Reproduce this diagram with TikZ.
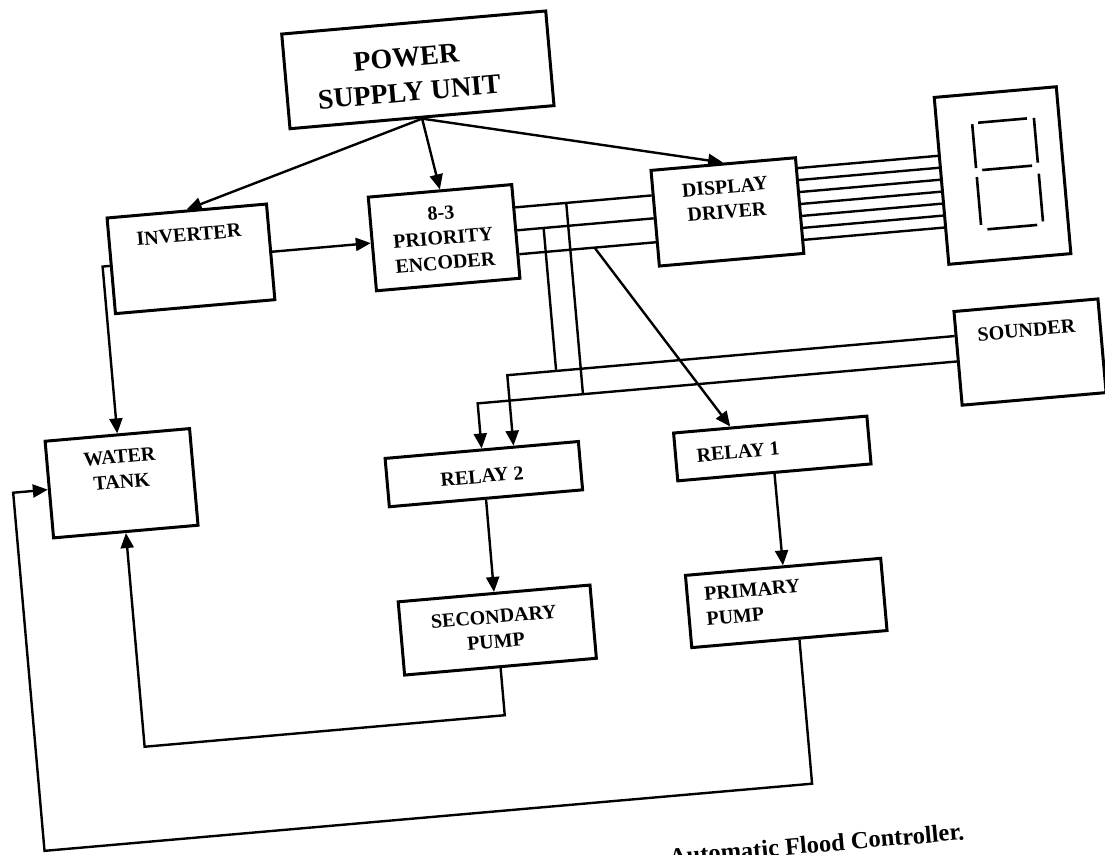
\documentclass[tikz,border=0pt]{standalone}
\usepackage{fontspec}
\setmainfont{Liberation Serif}
\usetikzlibrary{arrows.meta}
\begin{document}
\begin{tikzpicture}[x=1pt,y=-1pt,
  blk/.style 2 args={draw,line width=3pt,inner sep=0pt,minimum width=#1pt,minimum height=#2pt},
  lbl/.style={font=\bfseries\fontsize{20}{25}\selectfont,align=center,inner sep=0pt},
  lblL/.style={font=\bfseries\fontsize{20}{25}\selectfont,align=left,inner sep=0pt},
  big/.style={font=\bfseries\fontsize{28}{35}\selectfont,align=center,inner sep=0pt},
  conn/.style={line width=2.4pt},
  arr/.style={conn,-{Triangle[length=15pt,width=13pt]}},
  seg/.style={line width=2.6pt}]
\path[use as bounding box,fill=white] (0,0) rectangle (1105,854);
\begin{scope}[transform canvas={rotate around={5:(552,427)}}]
% boxes
\node[blk={265}{95}] (psu) at (449.5,59.5) {};
\node[big] (psut) at (439,63.5) {POWER\\SUPPLY UNIT};
\node[blk={160}{96}] (inv) at (207,228) {};
\node[lbl] (invt) at (207,204) {INVERTER};
\node[blk={144}{94}] (enc) at (461,229) {};
\node[lbl] (enct) at (460,229) {8-3\\PRIORITY\\ENCODER};
\node[blk={145}{96}] (drv) at (745.5,228) {};
\node[lbl] (drvt) at (745,215.5) {DISPLAY\\DRIVER};
\node[blk={122.5}{167.5}] (sevseg) at (1022.75,215.75) {};
\node[blk={144.5}{94}] (snd) at (1034.75,394) {};
\node[lbl] (sndt) at (1033,372) {SOUNDER};
\node[blk={145}{97}] (wt) at (118.3,445.5) {};
\node[lbl] (wtt) at (118.5,431.5) {WATER\\TANK};
\node[blk={194}{48.5}] (rl2) at (480,468) {};
\node[lbl] (rl2t) at (478,470) {RELAY 2};
\node[blk={194}{48}] (rl1) at (769.6,467.6) {};
\node[lbl,anchor=west] (rl1t) at (693.5,468) {RELAY 1};
\node[blk={192.5}{73.5}] (sec) at (479.8,624.5) {};
\node[lbl] (sect) at (477.5,623.5) {SECONDARY\\PUMP};
\node[blk={196}{72.5}] (pri) at (770,622.7) {};
\node[lblL,anchor=west] (prit) at (689,619.5) {PRIMARY\\PUMP};
\node[anchor=base west,inner sep=0pt,font=\bfseries\fontsize{24.5}{30}\selectfont] (cap) at (631,874) {Automatic Flood Controller.};
% seven-segment digit
\draw[seg] (1003,161) -- (1052,161);
\draw[seg] (1003,208.5) -- (1053,208.5);
\draw[seg] (1003,268) -- (1053,268);
\draw[seg] (997,162) -- (997,206);
\draw[seg] (1059,161) -- (1059,206);
\draw[seg] (997,215) -- (997,263);
\draw[seg] (1059,217) -- (1059,265);
% coordinates
\coordinate (b1) at (0,205);
\coordinate (b2) at (0,228);
\coordinate (b3) at (0,252);
\coordinate (bA) at (561,228);
\coordinate (bB) at (585.7,205);
\coordinate (s1) at (0,371.5);
\coordinate (s2) at (0,397);
\coordinate (t1) at (610,252);
\coordinate (ret1) at (0,710);
\coordinate (lft) at (9.5,805);
% power
\draw[arr] (psu.south) -- (inv.north);
\draw[arr] (psu.south) -- (enc.north);
\draw[arr] (psu.south) -- (drv.north);
% inverter
\draw[arr] (inv.east) -- (inv.east -| enc.west);
\draw[arr] (inv.west) -| (wt.north);
% bus
\draw[conn] (enc.east |- b1) -- (drv.west |- b1);
\draw[conn] (enc.east |- b2) -- (drv.west |- b2);
\draw[conn] (enc.east |- b3) -- (drv.west |- b3);
\foreach \k in {0,...,6}{
  \draw[conn] (drv.east |- 0,{190.5+12*\k}) -- (sevseg.west |- 0,{190.5+12*\k});
}
\draw[conn] (bA) -- (bA |- s1);
\draw[conn] (bB) -- (bB |- s2);
% sounder to relay 2
\draw[arr] (snd.west |- s1) -| ([xshift=32pt]rl2.north);
\draw[arr] (snd.west |- s2) -| (rl2.north);
% encoder to relay 1
\draw[arr] (t1) -- ([xshift=-40pt]rl1.north);
% relays to pumps
\draw[arr] (rl2.south) -- (sec.north);
\draw[arr] (rl1.south) -- (pri.north);
% returns to tank
\draw[arr] (sec.south) -- (sec.south |- ret1) -| (wt.south);
\draw[arr] ([xshift=10pt]pri.south) |- (lft) |- (wt.west);
\end{scope}
\end{tikzpicture}
\end{document}
